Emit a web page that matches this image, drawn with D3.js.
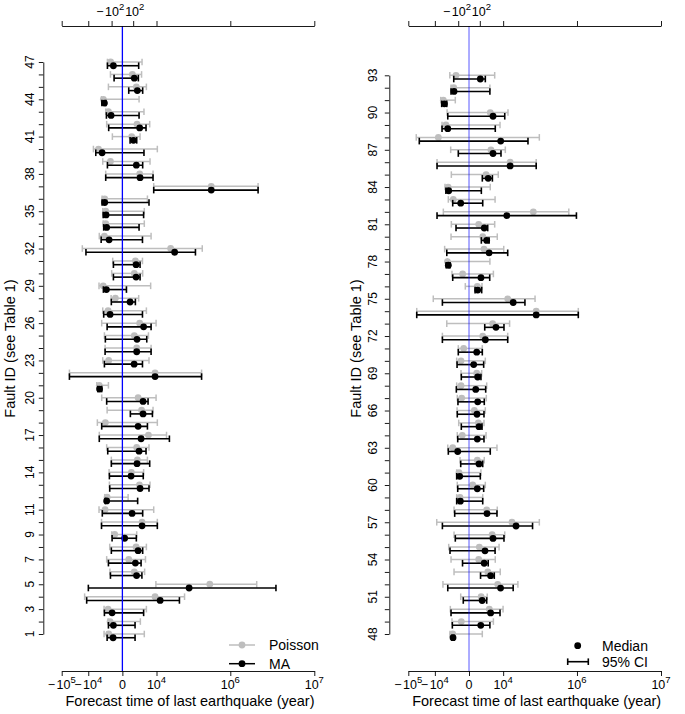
<!DOCTYPE html>
<html>
<head>
<meta charset="utf-8">
<script src="https://cdn.jsdelivr.net/npm/d3@7"></script>
<style>
  body { margin: 0; background: #fff; }
  text { font-family: "Liberation Sans", Arial, Helvetica, sans-serif; fill: #000; }
</style>
</head>
<body>
<svg id="chart" width="685" height="714"></svg>
<script>

// ---------------------------------------------
// data: fault 1..93, forecast time of last quake (years)
// Poisson and model-averaged (MA) medians with 95% CI

var faultIds = d3.range(1, 94);

var poisMed = [-260, -170, -310, 8400, 430000, 150, 12, 260, -26, 1100,
  -660, -400, 620, 48, 370, 310, 3400, -620, 1000, 450,
  -2100, 8400, -260, 310, 150, 660, -310, -18, -1000, 150,
  210, 40000, -770, -570, -570, -720, 460000, 660, -150, -2400,
  55, 340, -280, -960, 280, 74, -140, -520, -26, 1250,
  160, 5000, 920, 65, 83, 2100, 25000, 720, -48, 1.4,
  -74, 35, -520, -15, 55, 6, -21, -30, 26, -30,
  -6, 260, 2300, 150000, 16500, 35, -12, -1600, 370, 260,
  65, 126000, -450, -1400, 620, 21000, 1700, -6500, -2100, 1500,
  -3200, -400, -210];

var poisLo = [-830, -310, -830, -15000, 9300, -180, -450, -190, -97, -1400,
  -2200, -720, -210, -230, -110, -450, -2100, -2900, -400, -1350,
  -3200, -58000, -1100, -660, -770, -1350, -1100, -120, -2200, -97,
  -65, -19000, -2100, -1000, -1100, -1250, 7100, -570, -1100, -5200,
  -74, -450, -570, -1400, -280, -150, -370, -960, -620, -900,
  -35, -3400, -370, -770, -1250, -370, -8000, -370, -170, -140,
  -170, -48, -1500, -140, -83, -150, -140, -170, -30, -170,
  -97, -3700, -1800, -55000, -12000, -1.4, -620, -1600, -2600, -770,
  -720, -3200, -1350, -2450, -720, -7700, -830, -57000, -3900, -1700,
  -4700, -770, -1000];

var poisHi = [1700, 770, 2450, 110000, 2400000, 1800, 2100, 2450, 310, 11000,
  7100, 8, 4300, 1500, 2900, 3700, 28000, 11000, 6500, 9500,
  -280, 290000, 3700, 5000, 3400, 9500, 2450, 520, 4700, 1250,
  1200, 300000, 5000, 1700, 1700, 2900, 2500000, 6500, 4300, 11000,
  720, 4100, 1600, 570, 2450, 1000, 1100, 230, 2600, 9900,
  810, 42000, 7000, 3500, 6000, 12000, 180000, 4700, 260, 520,
  150, 400, 4500, 620, 370, 520, 660, 720, 190, 520,
  230, 16500, 20000, 1050000, 140000, 210, 2600, 1400, 10700, 4700,
  3200, 730000, 3400, 1500, 5400, 150000, 12800, 180000, 6800, 17000,
  -260, 1400, 3200];

var maMed = [-55, -48, -83, 15000, 146000, 300, 210, 450, 0.2, 1100,
  65, -450, 720, 42, 340, 570, 900, 450, 1350, 1350,
  -2000, 8400, 140, 310, 340, 1500, -170, 26, -480, 260,
  260, 55000, -230, -450, -520, -720, 460000, 720, 280, -1250,
  110, 660, -120, -770, 370, 150, -48, -480, 140, 1600,
  220, 7300, 1600, 390, 480, 2450, 36000, 770, -42, 35,
  -55, 74, -120, 35, 74, 30, 42, 15, 42, 3.6,
  26, 520, 3900, 150000, 28000, 42, 150, -1350, 1200, 720,
  400, 15000, -35, -1250, 1000, 21000, 2450, 7400, -1500, 2450,
  -2700, -370, 120];

var maLo = [-400, -280, -770, -12000, -9900, -150, -280, -110, -83, -1400,
  -1200, -620, -190, -210, -110, -340, -2100, -1350, 30, -450,
  -2700, -58000, -770, -660, -620, -400, -900, -110, -960, -48,
  -48, -13000, -1500, -900, -1000, -1250, 7100, -570, -370, -3700,
  26, -260, -480, -1300, 12, -35, -370, -620, -570, -770,
  -8, -1500, 130, -13, -960, -260, -3700, -310, -170, -120,
  -170, -35, -1350, -120, -26, -140, -110, -190, -26, -150,
  -97, -3700, 450, -55000, -3700, 10, -520, -2000, -1800, 170,
  -210, -7700, -520, -2100, 230, -7700, -97, -45000, -3900, -1500,
  -4100, -770, -400];

var maHi = [190, 190, 1500, 78000, 4100000, 1070, 900, 1250, 280, 11000,
  1250, 400, 3700, 1400, 4100, 2300, 36000, 2900, 6000, 3200,
  -1350, 290000, 1200, 5000, 2600, 5000, 1200, 210, 2, 720,
  720, 210000, 1200, 570, 1500, 3700, 2500000, 6500, 1250, 1600,
  310, 2300, 570, -550, 1250, 480, 520, -370, 1400, 6800,
  720, 28000, 3000, 1000, 3400, 11000, 120000, 4500, 260, 340,
  120, 260, 1500, 370, 210, 370, 400, 570, 150, 340,
  230, 16500, 11000, 1050000, 72000, 190, 1350, -960, 16500, 1200,
  900, 980000, 260, 170, 2200, 150000, 7700, 89000, 3500, 12000,
  -1800, 1400, 520];

// tick values
var bottomTicks = [-1e5, -1e4, 0, 1e4, 1e6, 1e7];
var topTicks = [-1e5, -1e4, -1e2, 1e2, 1e4, 1e6, 1e7];
var topLabels = [-1e2, 1e2];
var leftYLabels = [1, 3, 5, 7, 9, 11, 14, 17, 20, 23, 26, 29, 32, 35, 38, 41, 44, 47];
var rightYLabels = [48, 51, 54, 57, 60, 63, 66, 69, 72, 75, 78, 81, 84, 87, 90, 93];

var xTitle = "Forecast time of last earthquake (year)";
var yTitle = "Fault ID (see Table 1)";

///////////////////////////////////////////////
// layout

var svg = d3.select("#chart");

var grayCol = "#bebebe";
var axisTop = 26, axisBottom = 671;
var maShift = 0.3;

var panels = [
  { first: 1, last: 47, xr: [61.7, 314.3], yr: [634, 62], axisX: 43.3,
    labX: 34, titleX: 15, yLabels: leftYLabels, blueOp: 1 },
  { first: 48, last: 93, xr: [408.3, 661], yr: [634, 75.3], axisX: 389.3,
    labX: 377, titleX: 361, yLabels: rightYLabels, blueOp: 0.5 }
];

// "-10^k" style label, minus spaced like R plotmath
function powLabel(t, v) {
  if (v === 0) { t.text("0"); return; }
  var e = Math.round(Math.log10(Math.abs(v)));
  if (v < 0) t.append("tspan").text("\u2212");
  t.append("tspan").attr("dx", v < 0 ? 1.5 : 0).text("10");
  t.append("tspan").attr("dy", -5.5).attr("font-size", 9.5).text(e);
}

function errBar(g, x, yy, lo, hi, col, w) {
  var cap = 3.3;
  g.append("line").attr("x1", x(lo)).attr("x2", x(hi))
    .attr("y1", yy).attr("y2", yy)
    .attr("stroke", col).attr("stroke-width", w);
  [lo, hi].forEach(function(v) {
    g.append("line").attr("x1", x(v)).attr("x2", x(v))
      .attr("y1", yy - cap).attr("y2", yy + cap)
      .attr("stroke", col).attr("stroke-width", w);
  });
}

panels.forEach(function(p, pi) {

  var x = d3.scalePow().exponent(0.25).domain([-1e5, 1e7]).range(p.xr);
  var y = d3.scaleLinear().domain([p.first, p.last]).range(p.yr);
  var ids = faultIds.filter(function(d) { return d >= p.first && d <= p.last; });

  var g = svg.append("g");

  // ---------------
  // bars and points
  var marks = g.append("g");
  ids.forEach(function(id) {
    var i = id - 1;
    errBar(marks, x, y(id), poisLo[i], poisHi[i], grayCol, 1.5);
    marks.append("circle").attr("cx", x(poisMed[i])).attr("cy", y(id))
      .attr("r", 3.4).attr("fill", grayCol);
  });
  ids.forEach(function(id) {
    var i = id - 1;
    var yy = y(id - maShift);
    errBar(marks, x, yy, maLo[i], maHi[i], "#000", 1.6);
    marks.append("circle").attr("cx", x(maMed[i])).attr("cy", yy)
      .attr("r", 3.4).attr("fill", "#000");
  });

  // zero line
  g.append("line").attr("x1", x(0)).attr("x2", x(0))
    .attr("y1", axisTop).attr("y2", axisBottom)
    .attr("stroke", "blue").attr("stroke-width", 1.3)
    .attr("stroke-opacity", p.blueOp);

  // ---------------
  // axes
  var xb = g.append("g").attr("transform", "translate(0," + axisBottom + ")")
    .call(d3.axisBottom(x).tickValues(bottomTicks).tickSize(5)
      .tickSizeOuter(0).tickFormat(""));
  var xt = g.append("g").attr("transform", "translate(0," + axisTop + ")")
    .call(d3.axisTop(x).tickValues(topTicks).tickSize(5)
      .tickSizeOuter(0).tickFormat(""));
  var ya = g.append("g").attr("transform", "translate(" + p.axisX + ",0)")
    .call(d3.axisLeft(y).tickValues(ids).tickSize(4.5)
      .tickSizeOuter(0).tickFormat(""));

  [xb, xt, ya].forEach(function(a) {
    a.selectAll("path, line").attr("stroke", "#000").attr("stroke-width", 0.9);
  });

  bottomTicks.forEach(function(v) {
    var t = g.append("text").attr("x", x(v)).attr("y", axisBottom + 17.5)
      .attr("text-anchor", "middle").attr("font-size", 12.5);
    powLabel(t, v);
  });
  // the two top labels sit close together, nudge apart a little
  topLabels.forEach(function(v) {
    var t = g.append("text").attr("x", x(v) + (v < 0 ? -1.3 : 1.6)).attr("y", 15.5)
      .attr("text-anchor", "middle").attr("font-size", 12.5);
    powLabel(t, v);
  });
  p.yLabels.forEach(function(v) {
    g.append("text")
      .attr("transform", "translate(" + p.labX + "," + y(v) + ") rotate(-90)")
      .attr("text-anchor", "middle").attr("font-size", 12).text(v);
  });

  g.append("text").attr("x", (p.xr[0] + p.xr[1]) / 2 + 2).attr("y", 706)
    .attr("text-anchor", "middle").attr("font-size", 14.5).text(xTitle);
  g.append("text")
    .attr("transform", "translate(" + p.titleX + "," + ((axisTop + axisBottom) / 2) + ") rotate(-90)")
    .attr("text-anchor", "middle").attr("font-size", 14.5).text(yTitle);
});

///////////////////////////////////////////////
// legends

var lg = svg.append("g").attr("font-size", 14);

// left: series
[{ name: "Poisson", col: grayCol, y: 645 }, { name: "MA", col: "#000", y: 663.7 }]
  .forEach(function(d) {
    lg.append("line").attr("x1", 229).attr("x2", 255).attr("y1", d.y).attr("y2", d.y)
      .attr("stroke", d.col).attr("stroke-width", 1.5);
    lg.append("circle").attr("cx", 242).attr("cy", d.y).attr("r", 3.4).attr("fill", d.col);
    lg.append("text").attr("x", 269).attr("y", d.y + 5).text(d.name);
  });

// right: symbols
lg.append("circle").attr("cx", 577.7).attr("cy", 645.7).attr("r", 3.4).attr("fill", "#000");
lg.append("text").attr("x", 602).attr("y", 650.7).text("Median");
lg.append("line").attr("x1", 567.7).attr("x2", 588.3).attr("y1", 661.7).attr("y2", 661.7)
  .attr("stroke", "#000").attr("stroke-width", 1.6);
[567.7, 588.3].forEach(function(xx) {
  lg.append("line").attr("x1", xx).attr("x2", xx).attr("y1", 658.4).attr("y2", 665)
    .attr("stroke", "#000").attr("stroke-width", 1.6);
});
lg.append("text").attr("x", 602).attr("y", 666.7).text("95% CI");

</script>
</body>
</html>
